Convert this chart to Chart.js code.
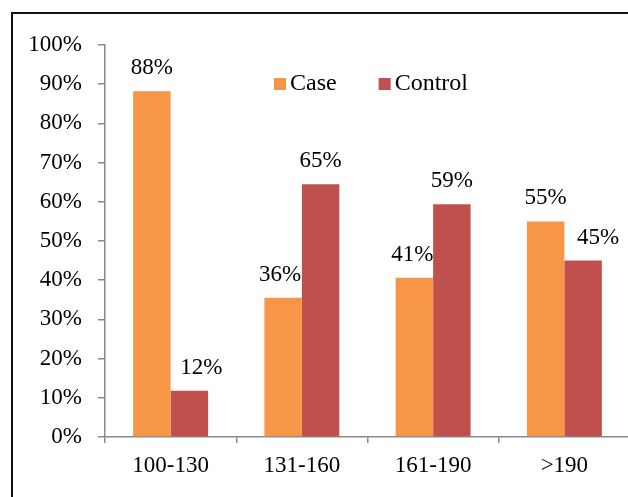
<!DOCTYPE html>
<html>
<head>
<meta charset="utf-8">
<script src="https://cdn.jsdelivr.net/npm/chart.js@4/dist/chart.umd.min.js"></script>
<style>
  html, body { margin: 0; padding: 0; background: #fff; overflow: hidden; }
  #wrap { position: relative; width: 628px; height: 497px; overflow: hidden; }
  #frame { position: absolute; left: 11px; top: 12px; width: 700px; height: 600px;
           border-left: 2px solid #111; border-top: 2px solid #111; box-sizing: border-box; }
  #box { position: absolute; left: 0; top: 0; width: 640px; height: 497px; }
</style>
</head>
<body>
<div id="wrap">
  <div id="frame"></div>
  <div id="box"><canvas id="chart"></canvas></div>
</div>
<script>
"use strict";

const categories = ['100-130', '131-160', '161-190', '>190'];
const caseValues = [88.2, 35.5, 40.6, 55.0];
const controlValues = [11.8, 64.5, 59.4, 45.0];
const yTicks = [0, 10, 20, 30, 40, 50, 60, 70, 80, 90, 100];

const FONT = "'Liberation Serif', 'Times New Roman', serif";
const AXIS_GREY = '#898989';

// value labels above bars, some nudged sideways as in the original
const valueLabels = {
  id: 'valueLabels',
  afterDatasetsDraw(chart, args, opts) {
    const ctx = chart.ctx;
    ctx.save();
    ctx.font = '23px ' + FONT;
    ctx.fillStyle = '#000';
    ctx.textAlign = 'center';
    ctx.textBaseline = 'middle';
    chart.data.datasets.forEach(function(ds, di) {
      const meta = chart.getDatasetMeta(di);
      meta.data.forEach(function(bar, i) {
        const shift = (opts.shift[di] && opts.shift[di][i]) || 0;
        ctx.fillText(Math.round(ds.data[i]) + '%', bar.x + shift, bar.y - 23);
      });
    });
    ctx.restore();
  }
};

// legend drawn inside the plot area
const innerLegend = {
  id: 'innerLegend',
  afterDraw(chart) {
    const ctx = chart.ctx;
    const area = chart.chartArea;
    let x = area.left + 169;
    const y = area.top + 39;
    ctx.save();
    ctx.font = '24px ' + FONT;
    ctx.textAlign = 'left';
    ctx.textBaseline = 'middle';
    chart.data.datasets.forEach(function(ds) {
      ctx.fillStyle = ds.backgroundColor;
      ctx.fillRect(x, y - 6, 12, 12);
      ctx.fillStyle = '#000';
      ctx.fillText(ds.label, x + 16, y);
      x += 16 + ctx.measureText(ds.label).width + 42;
    });
    ctx.restore();
  }
};

new Chart(document.getElementById('chart'), {
  type: 'bar',
  data: {
    labels: categories,
    datasets: [
      { label: 'Case', data: caseValues, backgroundColor: '#F79646' },
      { label: 'Control', data: controlValues, backgroundColor: '#C0504D' }
    ]
  },
  options: {
    responsive: true,
    maintainAspectRatio: false,
    animation: false,
    categoryPercentage: 0.571,
    barPercentage: 1.0,
    layout: { padding: { top: 45, right: 10, left: 0, bottom: 0 } },
    plugins: {
      legend: { display: false },
      tooltip: { enabled: false },
      valueLabels: { shift: [[0, -3, -2, 0], [12, 0, 0, 15]] }
    },
    scales: {
      x: {
        offset: true,
        grid: { offset: true, drawOnChartArea: false, drawTicks: true, tickLength: 6,
                color: AXIS_GREY, lineWidth: 1.5 },
        border: { color: AXIS_GREY, width: 1.5 },
        ticks: { color: '#000', font: { family: FONT, size: 23 }, padding: 9, maxRotation: 0 },
        afterFit(scale) { scale.height = 60; }
      },
      y: {
        min: 0,
        max: 100,
        afterBuildTicks(scale) { scale.ticks = yTicks.map(v => ({ value: v })); },
        grid: { drawOnChartArea: false, drawTicks: true, tickLength: 7,
                color: AXIS_GREY, lineWidth: 1.5 },
        border: { color: AXIS_GREY, width: 1.5 },
        ticks: { color: '#000', font: { family: FONT, size: 23 }, padding: 16,
                 callback: v => v + '%' },
        afterFit(scale) { scale.width = 105; }
      }
    }
  },
  plugins: [valueLabels, innerLegend]
});
</script>
</body>
</html>
